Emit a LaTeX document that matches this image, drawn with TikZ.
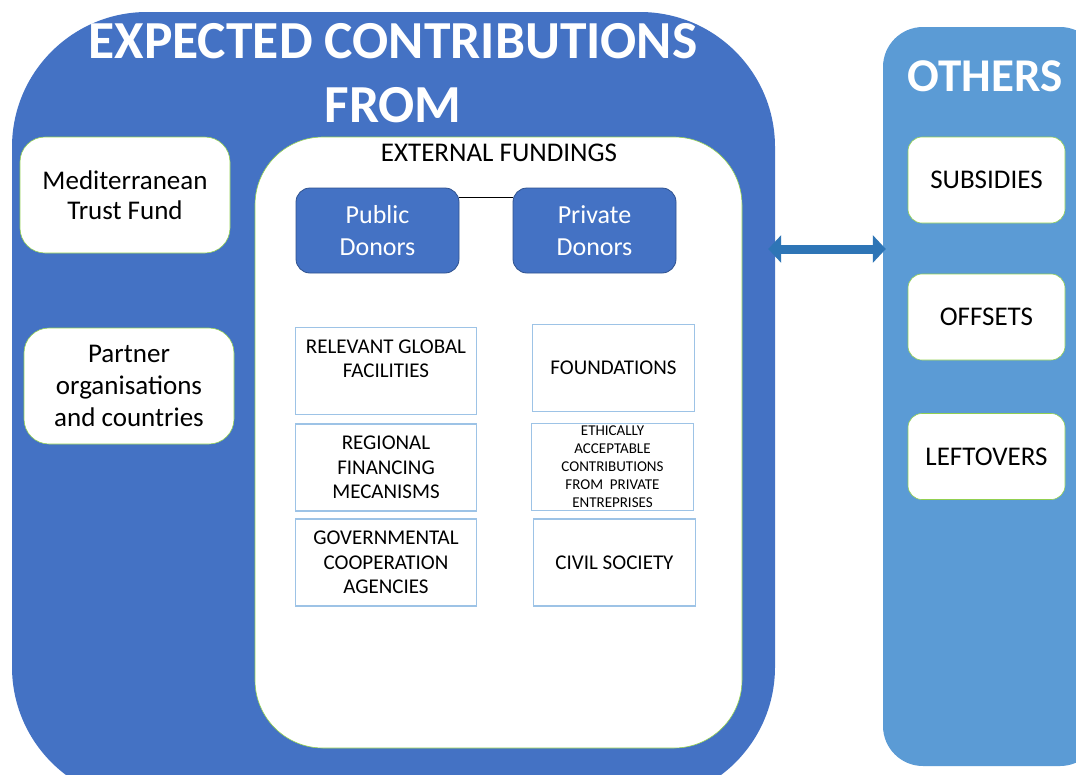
\documentclass[tikz,border=0pt]{standalone}
\usepackage{fontspec}
\setmainfont{Carlito}
\usetikzlibrary{arrows.meta}

\definecolor{mainblue}{HTML}{4472C4}
\definecolor{sideblue}{HTML}{5B9BD5}
\definecolor{arrowblue}{HTML}{2E75B6}
\definecolor{donorline}{HTML}{2F528F}
\definecolor{srcline}{HTML}{9DC3E6}
\definecolor{greenline}{HTML}{92D050}

\newcommand{\fsize}[2]{\fontsize{#1}{#2}\selectfont}

\tikzset{
    whitebox/.style={draw=greenline, semithick, fill=white, align=center, inner sep=0pt},
    donor/.style={draw=donorline, thick, fill=mainblue, text=white, rounded corners=14pt,
        align=center, minimum width=163pt, minimum height=85pt, font=\fsize{26}{32}},
    srcbox/.style={draw=srcline, line width=1.3pt, fill=white, align=center, inner sep=0pt,
        minimum height=87pt, font=\fsize{21}{24.5}},
    otherbox/.style={whitebox, rounded corners=14pt, minimum width=157pt, minimum height=86pt,
        font=\fsize{27}{30}}
}

\begin{document}
\begin{tikzpicture}[x=1pt, y=-1pt]
    \clip (0,0) rectangle (1076,774); % page
    \fill [white] (0,0) rectangle (1076,774);

    % big boxes
    \node at (393.5, 407)   [fill=mainblue, rounded corners=135pt, minimum width=763pt, minimum height=790pt] (expected) {};
    \node at (991.5, 396.5) [fill=sideblue, rounded corners=40pt,  minimum width=217pt, minimum height=739pt] (others)   {};

    % titles
    \node at (393, 73) [text=white, font=\bfseries\fsize{53.5}{64}, align=center] (title)  {EXPECTED CONTRIBUTIONS\\FROM};
    \node at (985, 76) [text=white, font=\bfseries\fsize{47}{52}]                 (otitle) {OTHERS};

    % left column
    \node at (125, 195) [whitebox, rounded corners=25pt, minimum width=210pt, minimum height=116pt, font=\fsize{27}{30}] (mtf)     {Mediterranean\\Trust Fund};
    \node at (129, 386) [whitebox, rounded corners=25pt, minimum width=210pt, minimum height=116pt, font=\fsize{27}{32}] (partner) {Partner\\organisations\\and countries};

    % external fundings
    \node at (498.5, 442.5) [whitebox, rounded corners=68pt, minimum width=487pt, minimum height=611pt] (ext) {};
    \node at (499, 153) [font=\fsize{27}{30}] (extlabel) {EXTERNAL FUNDINGS};

    % donors
    \node at (377.5, 230.5) [donor] (public)  {Public\\Donors};
    \node at (594.5, 230.5) [donor] (private) {Private\\Donors};
    \draw [thick] (public.east |- 0,197) -- (private.west |- 0,197);

    % public sources
    \begin{scope}[every node/.style={srcbox, minimum width=181pt}]
        \node at (386, 371)   (global)   {RELEVANT GLOBAL\\FACILITIES\\\mbox{}};
        \node at (386, 467.5) (regional) {REGIONAL\\FINANCING\\MECANISMS};
        \node at (386, 562.5) (gov)      {GOVERNMENTAL\\COOPERATION\\AGENCIES};
    \end{scope}

    % private sources
    \begin{scope}[every node/.style={srcbox, minimum width=162pt}]
        \node at (613.5, 368)   (found)  {FOUNDATIONS};
        \node at (612.5, 467)   (ethic)  [font=\fsize{15}{18}] {ETHICALLY\\ACCEPTABLE\\CONTRIBUTIONS\\FROM\ \ PRIVATE\\ENTREPRISES};
        \node at (614.5, 562.5) (civil)  {CIVIL SOCIETY};
    \end{scope}

    % others
    \node at (986.5, 180)   [otherbox] (subs)  {SUBSIDIES};
    \node at (986.5, 317)   [otherbox] (offs)  {OFFSETS};
    \node at (986.5, 456.5) [otherbox] (left)  {LEFTOVERS};

    % exchange
    \draw [arrowblue, line width=9pt, {Triangle[length=13pt,width=27pt]}-{Triangle[length=13pt,width=27pt]},
        shorten <=-7pt, shorten >=-3pt] (expected.east |- 0,249) -- (others.west |- 0,249);
\end{tikzpicture}
\end{document}
